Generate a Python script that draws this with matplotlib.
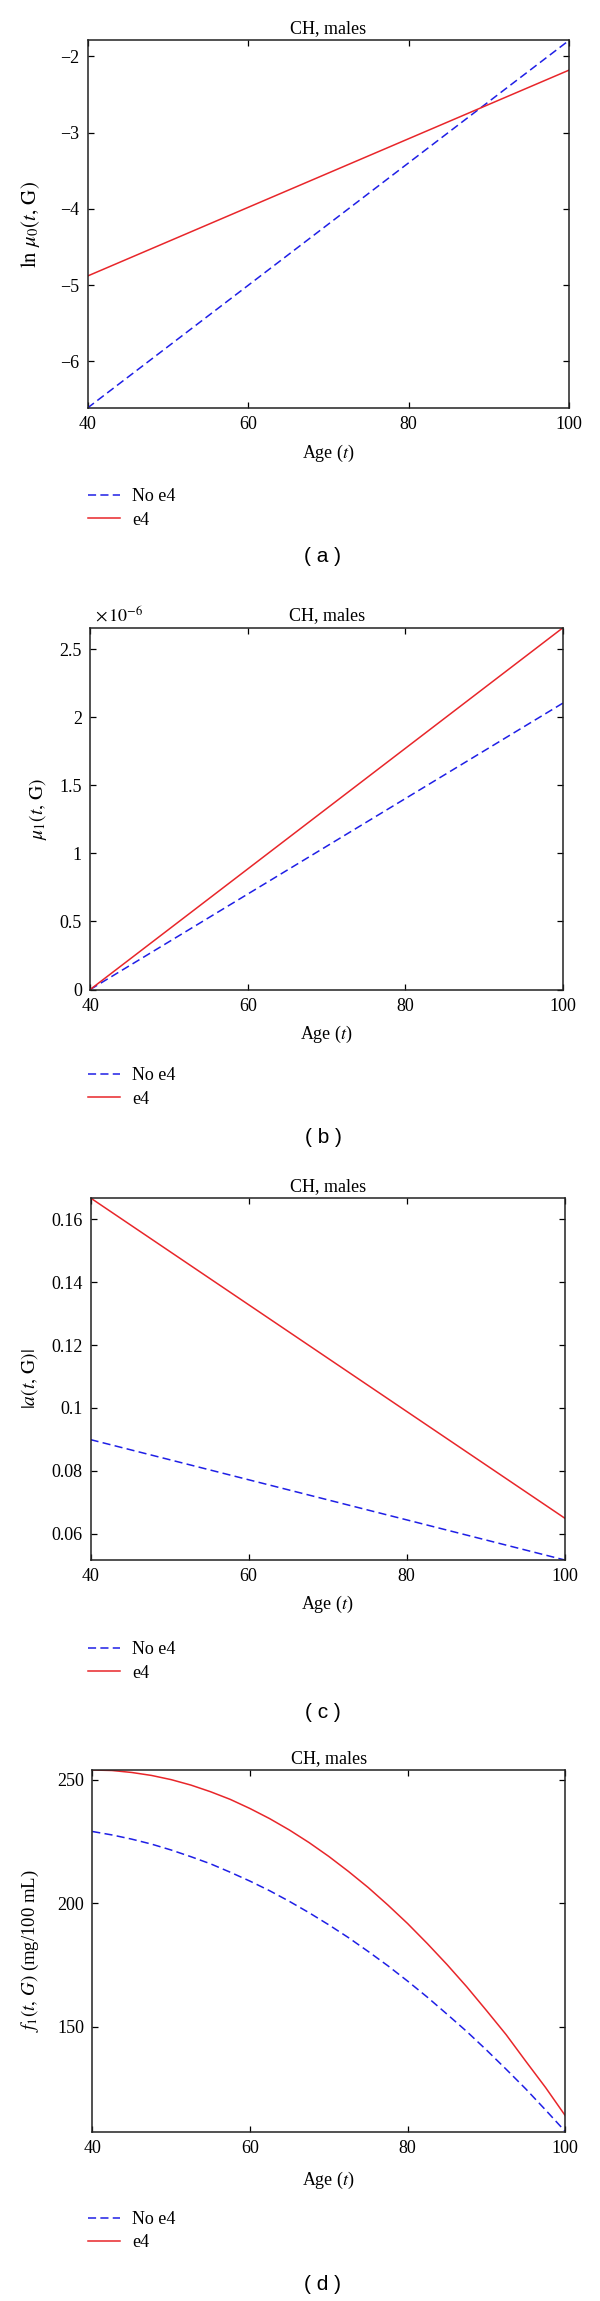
import matplotlib
matplotlib.use('Agg')
import matplotlib.pyplot as plt
from matplotlib.lines import Line2D
from matplotlib.ticker import FuncFormatter, MultipleLocator

plt.rcParams['font.family'] = ['Liberation Serif', 'DejaVu Serif']
plt.rcParams['mathtext.fontset'] = 'stix'
plt.rcParams['font.size'] = 13

# data
ages = [40, 100]
ln_mu0_no_e4 = [-6.61, -1.79]
ln_mu0_e4 = [-4.88, -2.18]
mu1_no_e4 = [0.0, 2.106e-6]
mu1_e4 = [0.0, 2.66e-6]
a_no_e4 = [0.0899, 0.0516]
a_e4 = [0.1668, 0.0649]

ages_f1 = [40, 42.5, 45, 47.5, 50, 52.5, 55, 57.5, 60, 62.5, 65, 67.5, 70,
           72.5, 75, 77.5, 80, 82.5, 85, 87.5, 90, 92.5, 95, 97.5, 100]
f1_no_e4 = [229.1, 227.7, 226.0, 224.0, 221.6, 218.9, 216.0, 212.6, 209.0,
            205.1, 200.8, 196.2, 191.3, 186.1, 180.5, 174.7, 168.5, 162.0,
            155.1, 148.1, 140.6, 132.8, 124.8, 116.3, 107.6]
f1_e4 = [254.0, 253.8, 253.0, 251.8, 250.1, 247.9, 245.2, 242.1, 238.4,
         234.3, 229.7, 224.6, 219.0, 212.9, 206.4, 199.3, 191.8, 183.7,
         175.2, 166.2, 156.6, 146.8, 136.0, 125.4, 114.0]

x_ticks = [40, 60, 80, 100]
labels = ['No e4', 'e4']
panel_tags = ['( a )', '( b )', '( c )', '( d )']

W, H = 600, 2301
fig = plt.figure(figsize=(W / 100, H / 100), dpi=100)

blue = '#1f1fe6'
red = '#e8262a'


def fx(x):
    return x / W


def fy(y):
    return 1 - y / H


def fmt(scale=1.0):
    return FuncFormatter(lambda v, p: ('%g' % round(v / scale, 6)).replace('-', '\u2212'))


# pixel boxes: left, right, top, bottom
boxes = [(87.5, 569, 40.4, 408),
         (90.2, 563, 627.7, 989.5),
         (90.6, 564.8, 1198, 1560),
         (92.3, 565.3, 1770, 2131.5)]

series = [(ages, ln_mu0_no_e4, ln_mu0_e4),
          (ages, mu1_no_e4, mu1_e4),
          (ages, a_no_e4, a_e4),
          (ages_f1, f1_no_e4, f1_e4)]

ylims = [(-6.61, -1.79), (0, 2.66e-6), (0.0516, 0.1668), (107.6, 254.0)]
ysteps = [1, 0.5e-6, 0.02, 50]
yscales = [1, 1e-6, 1, 1]
ylabels = [r'$\ln\,\mu_0(t,\,\mathrm{G})$', r'$\mu_1(t,\,\mathrm{G})$',
           r'$|a(t,\,\mathrm{G})|$', r'$f_1(t,\,G)$ (mg/100 mL)']
ylabel_size = [15, 14, 14, 13.5]
ylabel_x = [30.6, 38, 30, 30.6]

# text rows (title, xlabel, legend row1, legend row2, panel tag)
rows = [(28.6, 453.6, 496, 521, 557),
        (616, 1034.7, 1075, 1100, 1138),
        (1187, 1604, 1650, 1673, 1713),
        (1759, 2180.5, 2219.5, 2243, 2285)]

for i in range(4):
    l, r, t, b = boxes[i]
    ax = fig.add_axes([fx(l), fy(b), fx(r) - fx(l), (b - t) / H])
    xs, y_no, y_e4 = series[i]
    ax.plot(xs, y_no, color=blue, lw=1.1, dashes=(5.3, 2.8))
    ax.plot(xs, y_e4, color=red, lw=1.1)
    ax.set_xlim(40, 100)
    ax.set_ylim(*ylims[i])
    ax.set_xticks(x_ticks)
    ax.yaxis.set_major_locator(MultipleLocator(ysteps[i]))
    ax.yaxis.set_major_formatter(fmt(yscales[i]))
    ax.tick_params(direction='in', top=True, right=True, length=4,
                   width=0.9, labelsize=13, pad=6)
    for s in ax.spines.values():
        s.set_linewidth(1.1)
        s.set_color('#222222')

    title_y, xlab_y, leg1, leg2, tag_y = rows[i]
    fig.text(fx((l + r) / 2), fy(title_y), 'CH, males', ha='center', va='center', fontsize=13)
    fig.text(fx((l + r) / 2), fy(xlab_y), 'Age ($t$)', ha='center', va='center', fontsize=13)
    fig.text(fx(ylabel_x[i]), fy((t + b) / 2), ylabels[i], ha='center', va='center',
             rotation=90, fontsize=ylabel_size[i])

    handles = [Line2D([], [], color=blue, lw=1.1, dashes=(5.3, 2.8)),
               Line2D([], [], color=red, lw=1.1)]
    fig.legend(handles, labels, loc='center left',
               bbox_to_anchor=(fx(88), fy((leg1 + leg2) / 2)),
               frameon=False, fontsize=13, handlelength=1.75, handletextpad=0.7,
               labelspacing=0.35, borderpad=0, borderaxespad=0)

    fig.text(fx(323), fy(tag_y), panel_tags[i], ha='center', va='center',
             fontsize=15, family=['Liberation Sans', 'DejaVu Sans'])

# offset text for panel (b)
fig.text(fx(95), fy(615.5), r'$\times\,10^{-6}$', ha='left', va='center', fontsize=13)

fig.savefig('out.png', dpi=100)
